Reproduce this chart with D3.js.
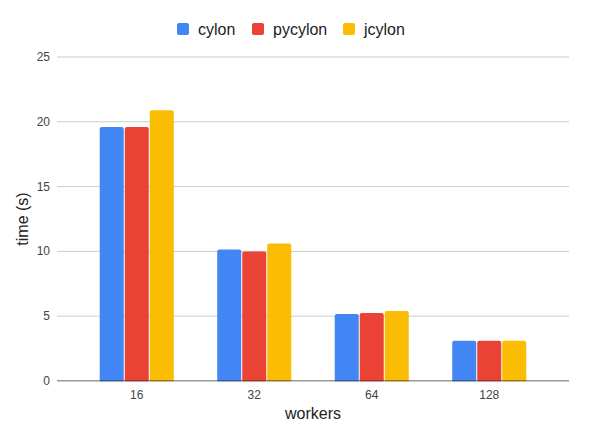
<!DOCTYPE html>
<html>
<head>
<meta charset="utf-8">
<script src="https://cdn.jsdelivr.net/npm/d3@7"></script>
<style>
  body { margin: 0; background: #fff; }
  text { font-family: Arial, "Liberation Sans", sans-serif; }
</style>
</head>
<body>
<div id="chart"></div>
<script>
const workers = ["16", "32", "64", "128"]
const seriesNames = ["cylon", "pycylon", "jcylon"]
const cylon = [19.6, 10.15, 5.17, 3.1]
const pycylon = [19.6, 10.0, 5.25, 3.1]
const jcylon = [20.9, 10.6, 5.4, 3.1]
const yTicks = [0, 5, 10, 15, 20, 25]
const colors = ["#4285f4", "#ea4335", "#fbbc04"]

const series = [cylon, pycylon, jcylon]
const width = 590, height = 425

const svg = d3.create("svg")
    .attr("width", width)
    .attr("height", height)
    .attr("viewBox", [0, 0, width, height])

const y = d3.scaleLinear().domain([0, 25]).range([381, 57])
const x0 = d3.scaleBand().domain(workers).range([78, 548]).paddingInner(0.37).paddingOuter(0.185)
const x1 = d3.scaleBand().domain(seriesNames).range([0, x0.bandwidth()]).paddingInner(0.04)

// gridlines
svg.append("g")
  .selectAll("line")
  .data(yTicks.filter(d => d > 0))
  .join("line")
    .attr("x1", 57).attr("x2", 569)
    .attr("y1", d => y(d)).attr("y2", d => y(d))
    .attr("stroke", "#cccccc")

// y tick labels
svg.append("g")
  .selectAll("text")
  .data(yTicks)
  .join("text")
    .attr("x", 50)
    .attr("y", d => y(d) + 4)
    .attr("text-anchor", "end")
    .attr("font-size", 12)
    .attr("fill", "#444")
    .text(d => d)

// bars
const groups = svg.append("g")
  .selectAll("g")
  .data(workers)
  .join("g")
    .attr("transform", d => `translate(${x0(d)},0)`)

groups.selectAll("rect")
  .data((d, i) => seriesNames.map((s, j) => ({s, v: series[j][i], c: colors[j]})))
  .join("rect")
    .attr("x", d => x1(d.s))
    .attr("y", d => y(d.v))
    .attr("width", x1.bandwidth())
    .attr("height", d => y(0) - y(d.v) + 2)
    .attr("rx", 2)
    .attr("fill", d => d.c)

// baseline
svg.append("line")
    .attr("x1", 57).attr("x2", 569)
    .attr("y1", y(0)).attr("y2", y(0))
    .attr("stroke", "#333")

// cover the rounded bottoms under the baseline
svg.append("rect")
    .attr("x", 57).attr("y", y(0) + 0.5)
    .attr("width", 512).attr("height", 4)
    .attr("fill", "#fff")

// x tick labels
svg.append("g")
  .selectAll("text")
  .data(workers)
  .join("text")
    .attr("x", d => x0(d) + x0.bandwidth() / 2)
    .attr("y", 399)
    .attr("text-anchor", "middle")
    .attr("font-size", 12)
    .attr("fill", "#444")
    .text(d => d)

// axis titles
svg.append("text")
    .attr("x", 313).attr("y", 419)
    .attr("text-anchor", "middle")
    .attr("font-size", 16)
    .attr("fill", "#222")
    .text("workers")

svg.append("text")
    .attr("transform", "translate(28,219) rotate(-90)")
    .attr("text-anchor", "middle")
    .attr("font-size", 16)
    .attr("fill", "#222")
    .text("time (s)")

// legend
const legendX = [177, 252, 343]
const legend = svg.append("g")
  .selectAll("g")
  .data(seriesNames)
  .join("g")
    .attr("transform", (d, i) => `translate(${legendX[i]},23)`)
legend.append("rect")
    .attr("width", 12).attr("height", 12).attr("rx", 2)
    .attr("fill", (d, i) => colors[i])
legend.append("text")
    .attr("x", 21).attr("y", 12)
    .attr("font-size", 16)
    .attr("fill", "#222")
    .text(d => d)

d3.select("#chart").node().appendChild(svg.node())
</script>
</body>
</html>
